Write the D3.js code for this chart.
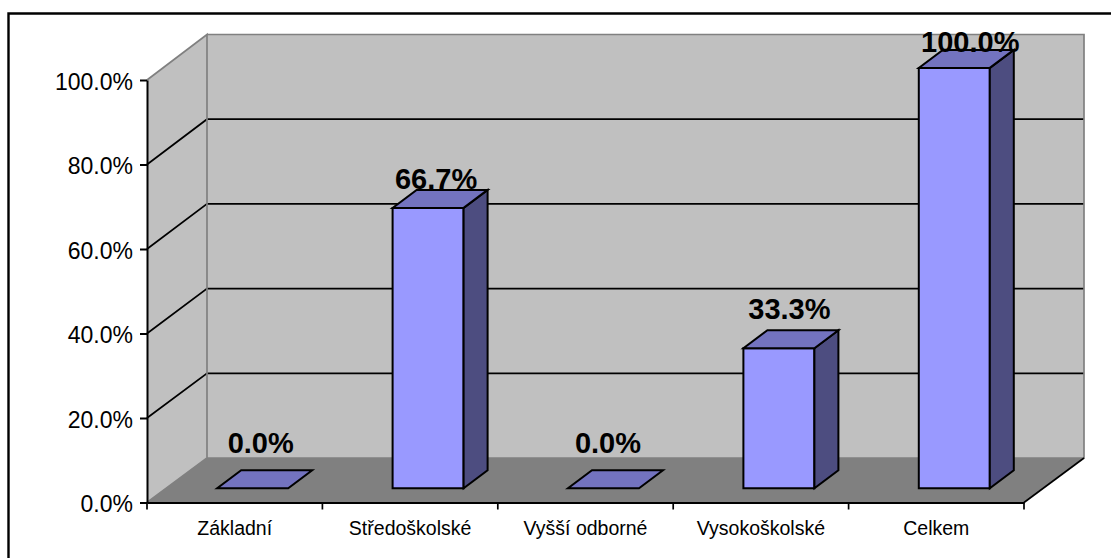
<!DOCTYPE html>
<html><head><meta charset="utf-8">
<style>html,body{margin:0;padding:0;background:#fff}svg{display:block}text{font-family:"Liberation Sans",Arial,sans-serif;fill:#000}</style>
<script src="https://cdn.jsdelivr.net/npm/d3@7"></script></head>
<body><svg id="c" width="1111" height="558"></svg>
<script>
const categories = ["Základní","Středoškolské","Vyšší odborné","Vysokoškolské","Celkem"];
const values = [0, 66.7, 0, 33.3, 100];
const valueTicks = [0, 20, 40, 60, 80, 100];

const svg = d3.select("#c");
const L=147,R=1024,B=502.5,T=80, dx=60;
const x = d3.scaleBand().domain(categories).range([L,R]);
const y = d3.scaleLinear().domain([0,100]).range([B,T]);
const yBack = d3.scaleLinear().domain([0,100]).range([458,34.5]);
const labelY = d3.scaleLinear().domain([0,33.3,66.7,100]).range([453,319,189,52]);
const labelNudge = [0,0,-3.5,2.5,8];
const pts = a=>a.map(p=>p.join(",")).join(" ");

// frame
svg.append("path").attr("d","M8.5,558V13.5H1111").attr("fill","none").attr("stroke","#000").attr("stroke-width",2.4);

// walls and floor
const g=svg.append("g");
g.append("polygon").attr("points",pts([[L,y(100)],[L+dx,yBack(100)],[L+dx,yBack(0)],[L,B]])).attr("fill","#c0c0c0");
g.append("polygon").attr("points",pts([[L+dx,yBack(100)],[R+dx,yBack(100)],[R+dx,yBack(0)],[L+dx,yBack(0)]])).attr("fill","#c0c0c0");
g.append("polygon").attr("points",pts([[L,B],[L+dx,yBack(0)],[R+dx,yBack(0)],[R,B]])).attr("fill","#808080");
// gridlines
valueTicks.filter(v=>v>0&&v<100).forEach(v=>{
  g.append("polyline").attr("points",pts([[L,y(v)],[L+dx,yBack(v)],[R+dx,yBack(v)]])).attr("fill","none").attr("stroke","#000").attr("stroke-width",1.7);
});
// wall edges
g.append("polyline").attr("points",pts([[L,B],[L+dx,yBack(0)],[L+dx,yBack(100)],[L,y(100)]])).attr("fill","none").attr("stroke","#808080").attr("stroke-width",1.7);
g.append("polyline").attr("points",pts([[L+dx,yBack(100)],[R+dx,yBack(100)],[R+dx,yBack(0)],[L+dx,yBack(0)]])).attr("fill","none").attr("stroke","#808080").attr("stroke-width",1.7);
g.append("line").attr("x1",R+dx).attr("y1",yBack(0)).attr("x2",R).attr("y2",B).attr("stroke","#000").attr("stroke-width",1.7);

// axes
const ay=svg.append("g").attr("transform",`translate(${L},0)`)
  .call(d3.axisLeft(y).tickValues(valueTicks).tickFormat(v=>v.toFixed(1)+"%").tickSize(7).tickPadding(7).tickSizeOuter(0));
const ax=svg.append("g").attr("transform",`translate(0,${B})`)
  .call(d3.axisBottom(x).tickFormat(d=>d).tickSize(0).tickPadding(19));
[ay,ax].forEach(a=>a.selectAll("path,line").attr("stroke","#000").attr("stroke-width",2));
ay.selectAll("text").attr("font-size",23).attr("font-family","Liberation Sans").attr("dy","0.4em");
ax.selectAll("text").attr("font-size",19.5).attr("font-family","Liberation Sans");
// category separators
const seps=categories.map(c=>x(c)).concat([R]);
svg.append("g").selectAll("line").data(seps).join("line")
  .attr("x1",d=>d).attr("x2",d=>d).attr("y1",B).attr("y2",B+7).attr("stroke","#000").attr("stroke-width",1.7);

// bars
const bw=71, bdx=24, bdy=-18, by0=488.3;
const barY=v=>by0-(B-y(v))*0.995;
const rows=categories.map((c,i)=>({c,v:values[i],n:labelNudge[i]}));
const bars=svg.append("g").selectAll("g").data(rows).join("g");
bars.each(function(d){
  const s=d3.select(this), x0=x(d.c)+x.bandwidth()/2-bw/2+18, x1=x0+bw, t=barY(d.v);
  const st=p=>p.attr("stroke","#000").attr("stroke-width",2).attr("stroke-linejoin","miter");
  if(d.v>0){
    st(s.append("polygon").attr("points",pts([[x0,t],[x1,t],[x1,by0],[x0,by0]])).attr("fill","#9999ff"));
    st(s.append("polygon").attr("points",pts([[x1,t],[x1+bdx,t+bdy],[x1+bdx,by0+bdy],[x1,by0]])).attr("fill","#4d4d80"));
  }
  st(s.append("polygon").attr("points",pts([[x0,t],[x1,t],[x1+bdx,t+bdy],[x0+bdx,t+bdy]])).attr("fill","#7373bf"));
});
// data labels
svg.append("g").selectAll("text").data(rows).join("text")
  .attr("x",d=>x(d.c)+x.bandwidth()/2+26+d.n).attr("y",d=>labelY(d.v))
  .attr("text-anchor","middle").attr("font-size",29).attr("font-weight","bold")
  .text(d=>d.v.toFixed(1)+"%");
</script></body></html>
